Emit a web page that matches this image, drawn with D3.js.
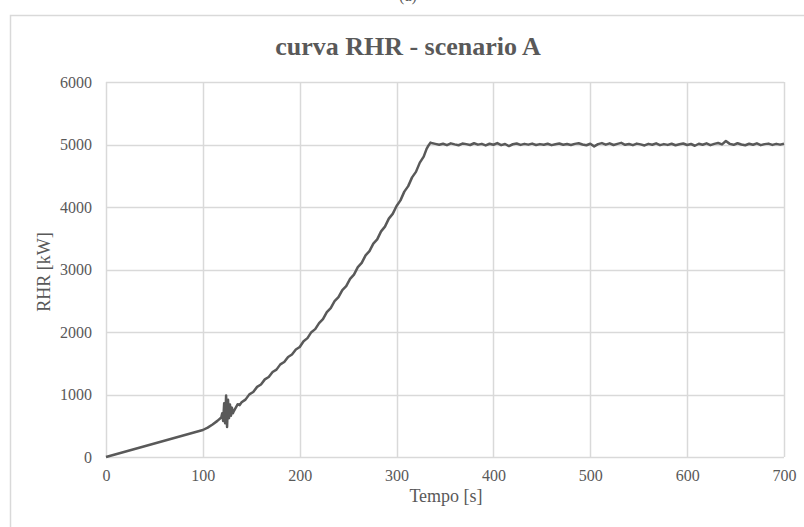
<!DOCTYPE html>
<html>
<head>
<meta charset="utf-8">
<script src="https://cdn.jsdelivr.net/npm/d3@7"></script>
<style>
  html, body { margin: 0; padding: 0; background: #ffffff; }
  svg { display: block; }
</style>
</head>
<body>
<script>
// Heat release rate curve, scenario A
const xTicks = [0, 100, 200, 300, 400, 500, 600, 700];
const yTicks = [0, 1000, 2000, 3000, 4000, 5000, 6000];

// initial linear growth
const rampTime = [0, 100, 105, 110, 115, 119];
const rampRHR  = [0, 432, 470, 520, 578, 632];

// short unstable burst around t = 120-131 s
const burstTime = [120, 121, 122, 123, 124, 125, 126, 127, 128, 129, 130, 131];
const burstRHR  = [700, 575, 860, 540, 985, 480, 915, 620, 840, 660, 790, 700];

// accelerating growth up to the 5 MW cap
const growthTime = [132, 134, 136, 138, 140, 144, 148, 152, 156, 160, 164, 168, 172, 176, 180, 184, 188, 192, 196,
  200, 204, 208, 212, 216, 220, 224, 228, 232, 236, 240, 244, 248, 252, 256, 260, 264, 268, 272, 276, 280,
  284, 288, 292, 296, 300, 304, 308, 312, 316, 320, 324, 328, 331, 333, 335];
const growthRHR = [735, 790, 845, 830, 875, 918, 1002, 1040, 1122, 1160, 1242, 1280, 1360, 1398, 1482, 1520, 1601, 1640, 1720,
  1760, 1853, 1902, 1997, 2046, 2142, 2206, 2318, 2382, 2494, 2558, 2671, 2734, 2849, 2918, 3038, 3106, 3226, 3294, 3414, 3482,
  3610, 3686, 3814, 3890, 4016, 4106, 4246, 4334, 4474, 4562, 4710, 4806, 4930, 4985, 5030];

// steady phase
const plateauTime = [336, 340, 344, 348, 352, 356, 360, 364, 368, 372, 376, 380, 384, 388, 392, 396, 400, 404, 408, 412,
  416, 420, 424, 428, 432, 436, 440, 444, 448, 452, 456, 460, 464, 468, 472, 476, 480, 484, 488, 492,
  496, 500, 504, 508, 512, 516, 520, 524, 528, 532, 536, 540, 544, 548, 552, 556, 560, 564, 568, 572,
  576, 580, 584, 588, 592, 596, 600, 604, 608, 612, 616, 620, 624, 628, 632, 636, 640, 644, 648, 652,
  656, 660, 664, 668, 672, 676, 680, 684, 688, 692, 696, 700];
const plateauRHR = [5025, 5010, 4995, 5012, 4990, 5018, 5002, 4988, 5015, 5006, 4992, 5020, 4998, 5010, 4985, 5012, 4996, 5022, 4990, 5008,
  4975, 5004, 5016, 4994, 5010, 4998, 5014, 4992, 5006, 4996, 5012, 4990, 5004, 5015, 4995, 5008, 4993, 5010, 5020, 5000,
  4988, 5012, 4970, 5006, 5022, 4998, 5018, 4992, 5010, 5026, 4995, 5008, 4990, 5014, 5002, 4985, 5010, 4996, 5018, 4990,
  5006, 4994, 5012, 4988, 5004, 5016, 4992, 5008, 4980, 5012, 4996, 5018, 4990, 5010, 5024, 5002, 5055, 5010, 4995, 5020,
  5000, 4988, 5012, 4996, 5018, 4990, 5006, 5014, 4994, 5010, 4998, 5012];

const times = [...rampTime, ...burstTime, ...growthTime, ...plateauTime];
const values = [...rampRHR, ...burstRHR, ...growthRHR, ...plateauRHR];
const series = times.map((t, i) => ({ t, v: values[i] }));

const W = 804, H = 527;
const plot = { left: 106, right: 784, top: 82, bottom: 457 };
const textColor = "#595959";
const gridColor = "#d9d9d9";
const serif = "'Liberation Serif', 'Times New Roman', serif";

const svg = d3.select("body").append("svg").attr("width", W).attr("height", H);

// chart frame (continues past the right and bottom edges)
svg.append("rect")
  .attr("x", 10.5).attr("y", 15.5).attr("width", 900).attr("height", 700)
  .attr("fill", "#ffffff").attr("stroke", gridColor).attr("stroke-width", 1.5);

// panel label, sitting at the top edge
svg.append("text")
  .attr("x", 408).attr("y", 1)
  .attr("text-anchor", "middle")
  .attr("font-family", serif).attr("font-size", 16).attr("fill", textColor)
  .text("(a)");

const x = d3.scaleLinear().domain([0, 700]).range([plot.left, plot.right]);
const y = d3.scaleLinear().domain([0, 6000]).range([plot.bottom, plot.top]);

// gridlines
svg.append("g")
  .selectAll("line.h").data(yTicks).join("line")
  .attr("x1", plot.left).attr("x2", plot.right)
  .attr("y1", d => Math.round(y(d)) + 0.5).attr("y2", d => Math.round(y(d)) + 0.5)
  .attr("stroke", gridColor).attr("stroke-width", 1.5);
svg.append("g")
  .selectAll("line.v").data(xTicks).join("line")
  .attr("y1", plot.top).attr("y2", plot.bottom)
  .attr("x1", d => Math.round(x(d)) + 0.5).attr("x2", d => Math.round(x(d)) + 0.5)
  .attr("stroke", gridColor).attr("stroke-width", 1.5);

// axes (labels only; lines come from the grid)
const xAxis = svg.append("g")
  .attr("transform", `translate(0,${plot.bottom})`)
  .call(d3.axisBottom(x).tickValues(xTicks).tickSize(0).tickPadding(13).tickFormat(d3.format("d")));
const yAxis = svg.append("g")
  .attr("transform", `translate(${plot.left},0)`)
  .call(d3.axisLeft(y).tickValues(yTicks).tickSize(0).tickPadding(14).tickFormat(d3.format("d")));
[xAxis, yAxis].forEach(a => {
  a.select(".domain").remove();
  a.selectAll("text")
    .attr("font-family", serif).attr("font-size", 16).attr("fill", textColor);
});

// data line
svg.append("path")
  .datum(series)
  .attr("fill", "none")
  .attr("stroke", "#595959")
  .attr("stroke-width", 2.5)
  .attr("stroke-linejoin", "round")
  .attr("d", d3.line().x(d => x(d.t)).y(d => y(d.v)));

// titles
svg.append("text")
  .attr("x", 408).attr("y", 55)
  .attr("text-anchor", "middle")
  .attr("font-family", serif).attr("font-size", 26).attr("font-weight", "bold")
  .attr("fill", textColor)
  .text("curva RHR - scenario A");

svg.append("text")
  .attr("x", 446).attr("y", 502)
  .attr("text-anchor", "middle")
  .attr("font-family", serif).attr("font-size", 18).attr("fill", textColor)
  .text("Tempo [s]");

svg.append("text")
  .attr("transform", "translate(50,272) rotate(-90)")
  .attr("text-anchor", "middle")
  .attr("font-family", serif).attr("font-size", 18).attr("fill", textColor)
  .text("RHR [kW]");
</script>
</body>
</html>
